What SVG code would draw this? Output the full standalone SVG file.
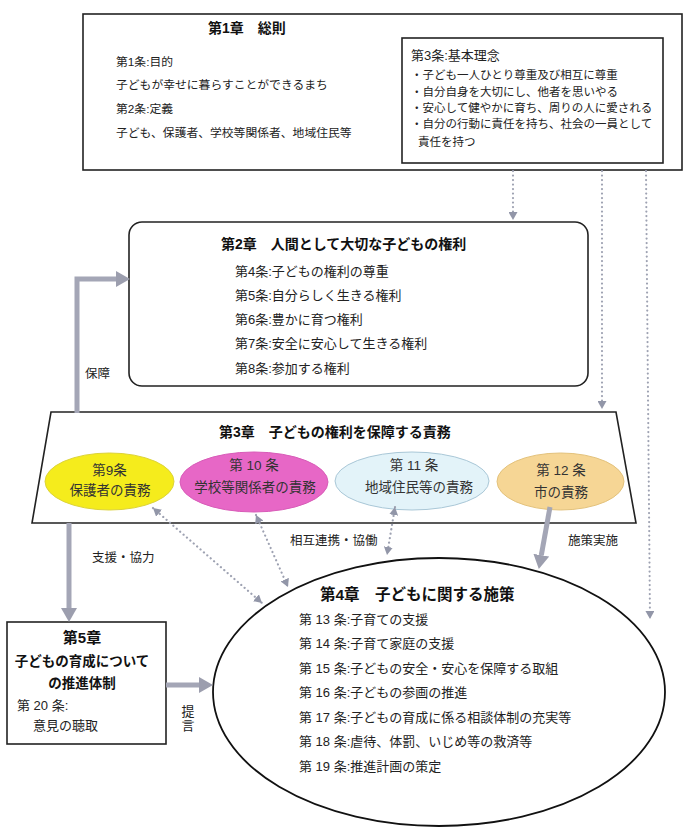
<svg xmlns="http://www.w3.org/2000/svg" width="700" height="839" viewBox="0 0 700 839">
<style>
text{font-family:"Liberation Sans","Noto Sans CJK JP",sans-serif;fill:#222}
.t{font-weight:bold;font-size:14px;fill:#111}
.s{font-size:12.5px}
.p{font-size:11.8px}
.m{font-size:13px}
.b{font-size:11.5px}
.e{font-size:13.5px;fill:#333}
.box{fill:#fff;stroke:#222;stroke-width:1.6}
.thick{fill:none;stroke:#a4a6b6;stroke-width:5}
.dot{fill:none;stroke:#9ea2b2;stroke-width:2.2;stroke-dasharray:0.1 4.4;stroke-linecap:round}
</style>
<defs>
<marker id="ah" markerUnits="userSpaceOnUse" markerWidth="14" markerHeight="16" refX="0" refY="8" orient="auto"><path d="M0,0 L14,8 L0,16 z" fill="#9c9eae"/></marker>
<marker id="dh" markerUnits="userSpaceOnUse" markerWidth="9" markerHeight="9" refX="8" refY="4.5" orient="auto-start-reverse"><path d="M0,0 L8,4.5 L0,9 z" fill="#9296a8"/></marker>
</defs>
<rect width="700" height="839" fill="#fff"/>

<g id="ch1">
<rect class="box" x="83" y="14" width="599" height="156"/>
<text class="t" x="208" y="33">第1章　総則</text>
<text class="p" x="116" y="66">第1条:目的</text>
<text class="p" x="116" y="89">子どもが幸せに暮らすことができるまち</text>
<text class="p" x="116" y="113">第2条:定義</text>
<text class="p" x="116" y="137">子ども、保護者、学校等関係者、地域住民等</text>
</g>
<g id="art3">
<rect class="box" x="402" y="38" width="261" height="125"/>
<text class="m" x="411" y="60">第3条:基本理念</text>
<text class="b" x="411" y="79">・子ども一人ひとり尊重及び相互に尊重</text>
<text class="b" x="411" y="96">・自分自身を大切にし、他者を思いやる</text>
<text class="b" x="411" y="112">・安心して健やかに育ち、周りの人に愛される</text>
<text class="b" x="411" y="128">・自分の行動に責任を持ち、社会の一員として</text>
<text class="b" x="418" y="146">責任を持つ</text>
</g>

<g id="ch2">
<rect class="box" x="129" y="222" width="459" height="164" rx="13"/>
<text class="t" x="221" y="248.5">第2章　人間として大切な子どもの権利</text>
<text class="m" x="235" y="275.5">第4条:子どもの権利の尊重</text>
<text class="m" x="235" y="299.5">第5条:自分らしく生きる権利</text>
<text class="m" x="235" y="323.5">第6条:豊かに育つ権利</text>
<text class="m" x="235" y="348">第7条:安全に安心して生きる権利</text>
<text class="m" x="235" y="372.5">第8条:参加する権利</text>
</g>

<g id="ch3">
<polygon class="box" points="51,412 616,412 636,523 32,523"/>
<text class="t" x="219" y="437">第3章　子どもの権利を保障する責務</text>
</g>
<g id="art9">
<ellipse cx="109.5" cy="481.5" rx="64.5" ry="28.5" fill="#f5ec1c" stroke="#dcd33a" stroke-width="1"/>
<text class="e" x="109.5" y="475" text-anchor="middle">第9条</text>
<text class="e" x="110" y="495" text-anchor="middle">保護者の責務</text>
</g>
<g id="art10">
<ellipse cx="254" cy="482" rx="74" ry="30" fill="#e767c6" stroke="#d85cb8" stroke-width="1"/>
<text class="e" x="254" y="470" text-anchor="middle">第 10 条</text>
<text class="e" x="255" y="492" text-anchor="middle">学校等関係者の責務</text>
</g>
<g id="art11">
<ellipse cx="412" cy="481" rx="77" ry="29" fill="#e3f3f9" stroke="#a9c7d7" stroke-width="1"/>
<text class="e" x="414" y="470" text-anchor="middle">第 11 条</text>
<text class="e" x="419" y="492" text-anchor="middle">地域住民等の責務</text>
</g>
<g id="art12">
<ellipse cx="560.5" cy="481.5" rx="63.5" ry="28.5" fill="#f6d695" stroke="#e3c27c" stroke-width="1"/>
<text class="e" x="561" y="475" text-anchor="middle">第 12 条</text>
<text class="e" x="561" y="497" text-anchor="middle">市の責務</text>
</g>

<g id="ch4">
<ellipse cx="439" cy="692" rx="226" ry="134" fill="#fff" stroke="#111" stroke-width="1.8"/>
<text class="t" x="320" y="599.5" style="font-size:15.5px">第4章　子どもに関する施策</text>
<text class="m" x="299" y="623.5">第 13 条:子育ての支援</text>
<text class="m" x="299" y="648">第 14 条:子育て家庭の支援</text>
<text class="m" x="299" y="672.5">第 15 条:子どもの安全・安心を保障する取組</text>
<text class="m" x="299" y="697">第 16 条:子どもの参画の推進</text>
<text class="m" x="299" y="721.5">第 17 条:子どもの育成に係る相談体制の充実等</text>
<text class="m" x="299" y="746">第 18 条:虐待、体罰、いじめ等の救済等</text>
<text class="m" x="299" y="770.5">第 19 条:推進計画の策定</text>
</g>

<g id="ch5">
<rect class="box" x="7" y="622" width="159" height="122"/>
<text class="t" x="82" y="643" text-anchor="middle" style="font-size:15px">第5章</text>
<text class="t" x="82" y="665.5" text-anchor="middle" style="font-size:13.5px">子どもの育成について</text>
<text class="t" x="82" y="688" text-anchor="middle" style="font-size:13.5px">の推進体制</text>
<text class="m" x="17" y="710">第 20 条:</text>
<text class="m" x="33" y="730">意見の聴取</text>
</g>

<g id="connectors">
<path class="dot" d="M513,171 V220" marker-end="url(#dh)"/>
<path class="dot" d="M602,171 V409" marker-end="url(#dh)"/>
<path class="dot" d="M646,171 L650,619" marker-end="url(#dh)"/>
<path class="dot" d="M153,508 L262,603" marker-start="url(#dh)" marker-end="url(#dh)"/>
<path class="dot" d="M256,515 L288,587" marker-start="url(#dh)" marker-end="url(#dh)"/>
<path class="dot" d="M395,507 L387,555" marker-start="url(#dh)" marker-end="url(#dh)"/>
<path class="thick" d="M77,413 V279 H116" marker-end="url(#ah)"/>
<path class="thick" d="M69,523 V608" marker-end="url(#ah)"/>
<path class="thick" d="M166,685 H199" marker-end="url(#ah)"/>
<path class="thick" d="M550,507 L541.3,555.2" marker-end="url(#ah)"/>
<text class="s" x="85" y="377.5">保障</text>
<text class="s" x="92" y="561.5">支援・協力</text>
<text class="s" x="290" y="544.5">相互連携・協働</text>
<text class="s" x="568" y="544.5">施策実施</text>
<text class="m" x="188" y="715.5" text-anchor="middle">提</text>
<text class="m" x="188" y="730" text-anchor="middle">言</text>
</g>
</svg>
